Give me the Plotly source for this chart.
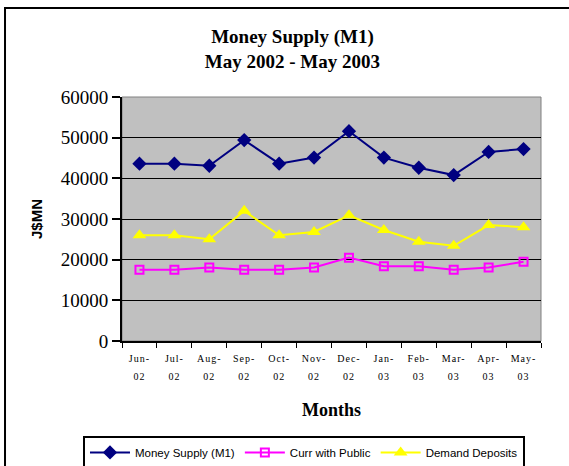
import plotly.graph_objects as go

months = ["Jun", "Jul", "Aug", "Sep", "Oct", "Nov", "Dec", "Jan", "Feb", "Mar", "Apr", "May"]
years = ["02", "02", "02", "02", "02", "02", "02", "03", "03", "03", "03", "03"]
categories = [f"{m}-{y}" for m, y in zip(months, years)]

money_supply = [43600, 43600, 43100, 49400, 43600, 45100, 51600, 45100, 42600, 40800, 46500, 47200]
curr_public = [17500, 17500, 18100, 17500, 17500, 18100, 20500, 18400, 18400, 17500, 18100, 19500]
demand_deposits = [26000, 26000, 25000, 32000, 26000, 26800, 30900, 27300, 24400, 23400, 28500, 28000]

y_ticks = [0, 10000, 20000, 30000, 40000, 50000, 60000]
y_ticktext = [str(v) for v in y_ticks]

ticktext = [
    f"<span style='font-size:10px;letter-spacing:1px'>{m}-</span><br><span style='font-size:10px;letter-spacing:1px'>{y}</span>"
    for m, y in zip(months, years)
]

fig = go.Figure()
fig.add_trace(go.Scatter(x=categories, y=money_supply, name="Money Supply (M1)", mode="lines+markers",
                         line=dict(color="#000080", width=2),
                         marker=dict(symbol="diamond", size=11, color="#000080")))
fig.add_trace(go.Scatter(x=categories, y=curr_public, name="Curr with Public", mode="lines+markers",
                         line=dict(color="#FF00FF", width=2),
                         marker=dict(symbol="square-open", size=8, color="#FF00FF", line=dict(width=2))))
fig.add_trace(go.Scatter(x=categories, y=demand_deposits, name="Demand Deposits", mode="lines+markers",
                         line=dict(color="#FFFF00", width=2),
                         marker=dict(symbol="triangle-up", size=12, color="#FFFF00")))

fig.update_layout(
    width=569, height=466,
    margin=dict(l=122, r=28, t=97, b=125, autoexpand=False),
    paper_bgcolor="white",
    plot_bgcolor="#C0C0C0",
    title=dict(text="Money Supply (M1)<br>May 2002 - May 2003", x=0.514, xanchor="center",
               y=0.908, yanchor="top",
               font=dict(family="Liberation Serif", size=19, color="black", weight="bold")),
    showlegend=True,
    legend=dict(orientation="h", x=-0.0931, xanchor="left", y=-0.389, yanchor="top",
                bordercolor="black", borderwidth=2, bgcolor="white",
                font=dict(family="Liberation Sans", size=11.5, color="black"),
                itemwidth=40, tracegroupgap=0),
    xaxis=dict(type="category", tickvals=categories, ticktext=ticktext, range=[-0.5, 11.5],
               tickson="boundaries", ticks="outside", ticklen=5, tickcolor="black", tickwidth=1,
               showline=True, linecolor="black", linewidth=2, showgrid=False, zeroline=False,
               tickfont=dict(family="Liberation Serif", size=14, color="black"), tickangle=0,
               ticklabelstandoff=2,
               title=dict(text="Months", font=dict(family="Liberation Serif", size=18, color="black", weight="bold"),
                          standoff=22)),
    yaxis=dict(range=[0, 60000], tickvals=y_ticks, ticktext=y_ticktext, ticks="outside", ticklen=8,
               tickcolor="black", tickwidth=2, showline=True, linecolor="black", linewidth=2,
               showgrid=True, gridcolor="black", gridwidth=1, zeroline=False,
               tickfont=dict(family="Liberation Serif", size=19, color="black"),
               title=dict(text="J$MN", font=dict(family="Liberation Sans", size=15, color="black", weight="bold"),
                          standoff=14)),
    shapes=[
        dict(type="rect", xref="paper", yref="paper", x0=0, x1=1, y0=0, y1=1,
             line=dict(color="#808080", width=1), layer="below"),
        dict(type="rect", xref="paper", yref="paper", x0=-0.2792, x1=1.3, y0=-0.7, y1=1.3648,
             line=dict(color="black", width=2), layer="above"),
    ],
)

fig.write_html("out.html", config={"displayModeBar": False},
               post_script="document.body.style.margin='0';")
